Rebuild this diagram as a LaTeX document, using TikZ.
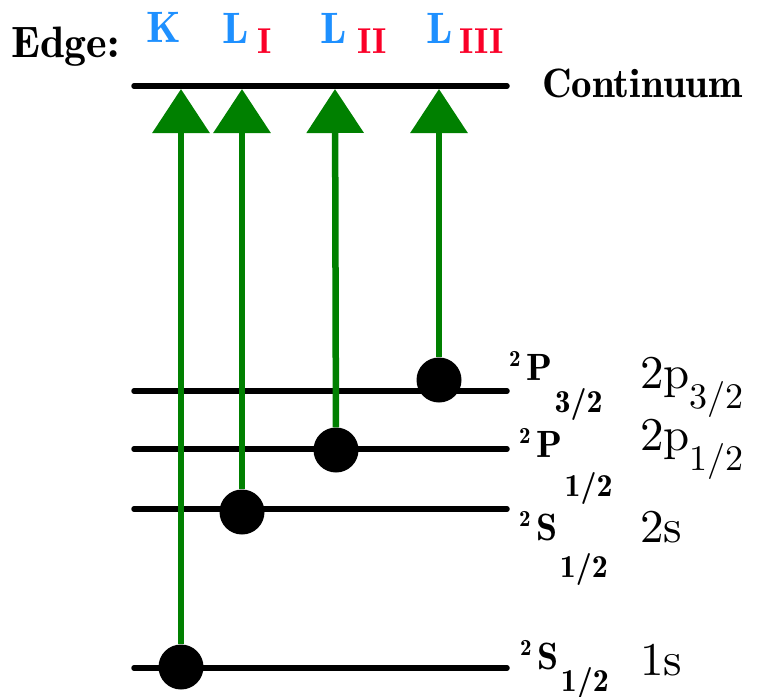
\documentclass[tikz,border=0pt]{standalone}
\usepackage{fontspec}
\usepackage{xcolor}
\usepackage{tikz}
\usetikzlibrary{arrows.meta, positioning}
\newfontfamily\demifont{lmromandemi10-regular.otf}
\newfontfamily\orbfont{lmroman10-regular.otf}
\definecolor{edgeblue}{RGB}{30,144,255}
\definecolor{edgered}{RGB}{250,0,40}
\definecolor{jumpgreen}{RGB}{0,128,0}
\newcommand{\fsz}[1]{\fontsize{#1}{#1}\selectfont}
\newcommand{\termsym}[3]{\raisebox{14pt}{\fsz{23}2}\hspace{6pt}#1\hspace{2pt}\raisebox{-#3}{\fsz{32}#2}}
\newcommand{\orbit}[2]{#1\raisebox{-20pt}{\fsz{36}#2}}

\begin{document}
\begin{tikzpicture}[x=1pt, y=-1pt, >={Triangle[width=56pt, length=44pt]},
    level/.style={line width=5.5pt, line cap=round},
    jump/.style={->, line width=6.5pt, jumpgreen},
    dot/.style={circle, fill=black, inner sep=0pt, minimum size=45pt},
    txt/.style={inner sep=0pt, anchor=base west},
    edgelbl/.style={txt, font=\demifont\fsz{44}},
    numlbl/.style={txt, edgered, font=\demifont\fsz{36}},
    termlbl/.style={txt, font=\demifont\fsz{38}},
    orblbl/.style={txt, font=\orbfont\fsz{47}}]
    \useasboundingbox (0,0) rectangle (765,696);
    % 1. Edge labels
    \node[edgelbl] (edge) at (11,57) {Edge:};
    \node[edgelbl, edgeblue] (kL) at (146,42) {K};
    \node[edgelbl, edgeblue] (l1L) at (222,43) {L};
    \node[numlbl] (l1N) at (257,53) {I};
    \node[edgelbl, edgeblue] (l2L) at (320,43) {L};
    \node[numlbl] (l2N) at (357,53) {II};
    \node[edgelbl, edgeblue] (l3L) at (426,43) {L};
    \node[numlbl] (l3N) at (459,53) {III};
    % 2. Levels
    \draw[level] (134,86) -- (507,86);
    \draw[level] (134,391) -- (507,391);
    \draw[level] (134,449) -- (507,449);
    \draw[level] (134,509) -- (507,509);
    \draw[level] (134,668) -- (507,668);
    \node[edgelbl, font=\demifont\fsz{41}] (cont) at (542,97) {Continuum};
    % 3. Electrons
    \node[dot] (dotK) at (181,667) {};
    \node[dot] (dotL1) at (242,512) {};
    \node[dot] (dotL2) at (336,450) {};
    \node[dot] (dotL3) at (439,380) {};
    \coordinate (topK) at (181,89);
    \coordinate (topL1) at (242,89);
    \coordinate (topL2) at (335,89);
    \coordinate (topL3) at (439,89);
    % 4. Transitions
    \draw[jump] (dotK) -- (topK);
    \draw[jump] (dotL1) -- (topL1);
    \draw[jump] (dotL2) -- (topL2);
    \draw[jump] (dotL3) -- (topL3);
    % 5. Term symbols and orbitals
    \node[termlbl] (p32) at (509,380) {\termsym{P}{3/2}{32pt}};
    \node[termlbl] (p12) at (519,457) {\termsym{P}{1/2}{39pt}};
    \node[termlbl] (s2) at (519,540) {\termsym{S}{1/2}{37pt}};
    \node[termlbl] (s1) at (520,669) {\termsym{S}{1/2}{22pt}};
    \node[orblbl] (o32) at (640,388) {\orbit{2p}{3/2}};
    \node[orblbl] (o12) at (640,450) {\orbit{2p}{1/2}};
    \node[orblbl] (o2s) at (640,542) {2s};
    \node[orblbl] (o1s) at (640,675) {1s};
\end{tikzpicture}
\end{document}
